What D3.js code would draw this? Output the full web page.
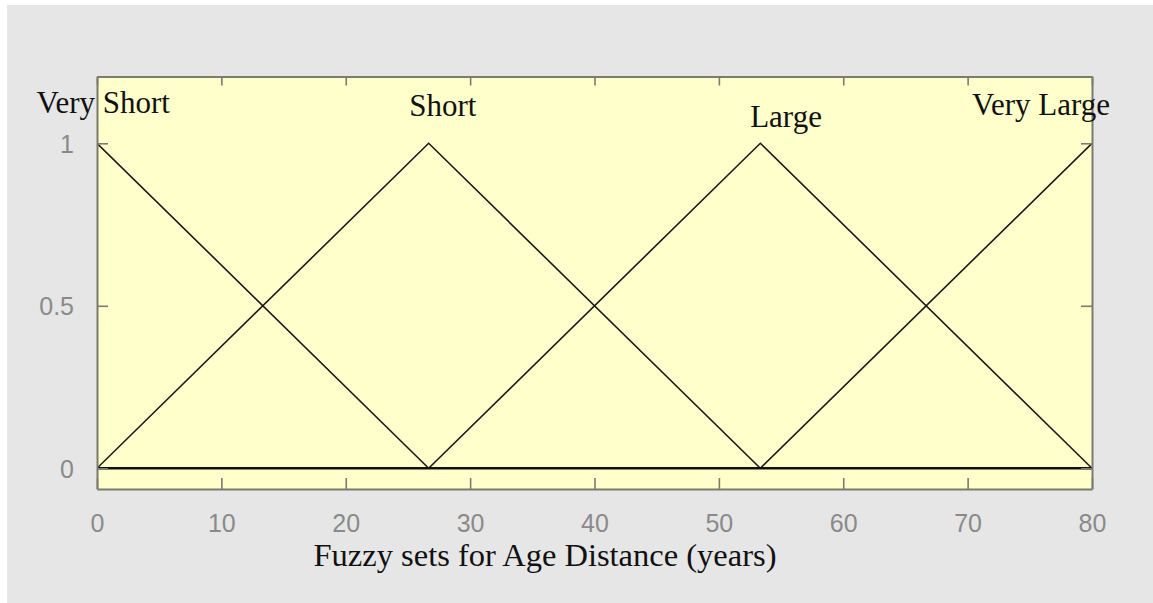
<!DOCTYPE html>
<html><head><meta charset="utf-8">
<script src="https://cdn.jsdelivr.net/npm/d3@7"></script>
<style>
html,body{margin:0;padding:0;background:#fff;}
svg{display:block;}
</style></head>
<body>
<svg id="chart" width="1153" height="603"></svg>
<script>
// ---- data ----
const setNames = ["Very Short", "Short", "Large", "Very Large"];
// triangular membership function parameters [a, b, c]
const setParams = [
  [-26.667, 0, 26.667],
  [0, 26.667, 53.333],
  [26.667, 53.333, 80],
  [53.333, 80, 106.667]
];
// label anchor points (data units)
const labelX = [0.5, 27.8, 55.4, 75.9];
const labelY = [1.093, 1.084, 1.05, 1.087];
const xTicks = [0, 10, 20, 30, 40, 50, 60, 70, 80];
const yTicks = [0, 0.5, 1];
const xTitle = "Fuzzy sets for Age Distance (years)";

// ---- layout ----
const svg = d3.select("#chart");
svg.append("rect").attr("x", 7).attr("y", 5).attr("width", 1146).attr("height", 598).attr("fill", "#e6e6e6");

const L = 97, R = 1092, T = 76.5, B = 489;
const x = d3.scaleLinear().domain([0, 80]).range([L, R]);
const y = d3.scaleLinear().domain([-0.0637, 1.2055]).range([B, T]);

svg.append("rect").attr("x", L).attr("y", T).attr("width", R - L).attr("height", B - T)
  .attr("fill", "#ffffcc");

svg.append("clipPath").attr("id", "clip").append("rect")
  .attr("x", L).attr("y", T).attr("width", R - L).attr("height", B - T);

// membership functions
const line = d3.line().x(d => x(d[0])).y(d => y(d[1]));
const g = svg.append("g").attr("clip-path", "url(#clip)");
setParams.forEach(p => {
  const mf = v => Math.max(0, Math.min((v - p[0]) / (p[1] - p[0]), (p[2] - v) / (p[2] - p[1])));
  const knots = [0, p[0], p[1], p[2], 80].filter(v => v >= 0 && v <= 80).sort((a, b) => a - b);
  const path = knots.map(v => [v, mf(v)]);
  g.append("path").datum(path).attr("d", line)
    .attr("fill", "none").attr("stroke", "#1a1a1a").attr("stroke-width", 1.6);
});
// baseline emphasis (overlapping zero segments)
g.append("path").datum([[0, 0], [80, 0]]).attr("d", line)
  .attr("stroke", "#111").attr("stroke-width", 2.4);

// axes
const axisColor = "#7b7b6e";
const tickFont = "Arial, 'Liberation Sans', sans-serif";
const axB = svg.append("g").attr("transform", `translate(0,${B})`)
  .call(d3.axisBottom(x).tickValues(xTicks).tickSizeInner(-11).tickSizeOuter(0).tickPadding(25));
const axT = svg.append("g").attr("transform", `translate(0,${T})`)
  .call(d3.axisTop(x).tickValues(xTicks).tickSizeInner(-9).tickSizeOuter(0).tickFormat(""));
const axL = svg.append("g").attr("transform", `translate(${L},0)`)
  .call(d3.axisLeft(y).tickValues(yTicks).tickSizeInner(-11).tickSizeOuter(0).tickPadding(23).tickFormat(d3.format("")));
const axR = svg.append("g").attr("transform", `translate(${R},0)`)
  .call(d3.axisRight(y).tickValues(yTicks).tickSizeInner(-11).tickSizeOuter(0).tickFormat(""));
[axB, axT, axL, axR].forEach(a => {
  a.select(".domain").attr("stroke", axisColor).attr("stroke-width", 2);
  a.selectAll(".tick line").attr("stroke", axisColor).attr("stroke-width", 1.6);
  a.selectAll(".tick text").attr("fill", "#8a8a8a").attr("font-family", tickFont).attr("font-size", 25);
});
axB.selectAll(".tick text").attr("dy", "0.71em");
axL.selectAll(".tick text").attr("dy", "0.36em");

// set labels
svg.append("g").selectAll("text").data(setNames).join("text")
  .attr("x", (d, i) => x(labelX[i])).attr("y", (d, i) => y(labelY[i]))
  .attr("text-anchor", "middle")
  .attr("font-family", "'Liberation Serif', 'Times New Roman', serif")
  .attr("font-size", 31).attr("fill", "#111").text(d => d);

// x title
svg.append("text").attr("x", 545).attr("y", 566)
  .attr("text-anchor", "middle")
  .attr("font-family", "'Liberation Serif', 'Times New Roman', serif")
  .attr("font-size", 32.5).attr("fill", "#111").text(xTitle);
</script>
</body></html>
